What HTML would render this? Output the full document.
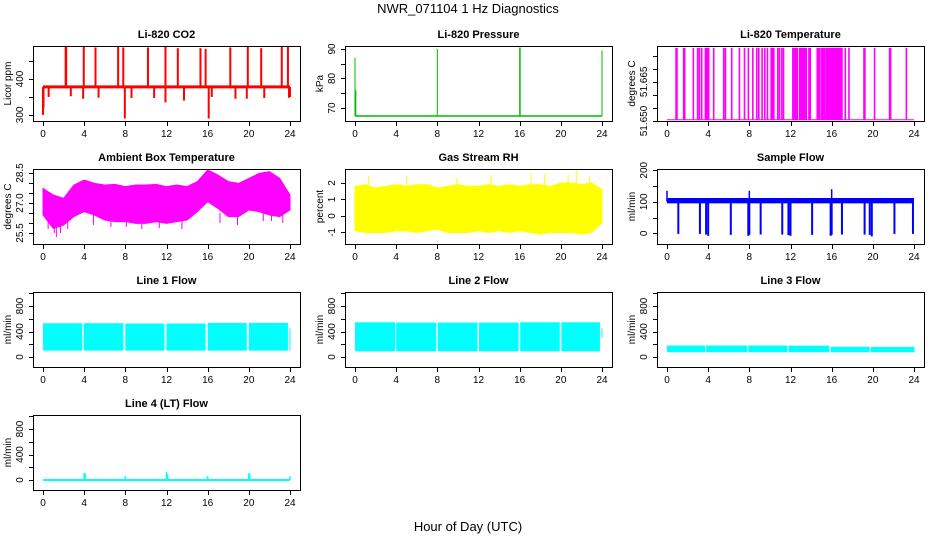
<!DOCTYPE html>
<html><head><meta charset="utf-8"><style>
body{margin:0;background:#fff}
svg{display:block;font-family:"Liberation Sans",sans-serif}
</style></head><body>
<svg id="c" width="936" height="540" viewBox="0 0 936 540">
<text x="468" y="13" text-anchor="middle" font-size="13">NWR_071104  1 Hz Diagnostics</text>
<text x="468" y="531" text-anchor="middle" font-size="13">Hour of Day (UTC)</text>
</svg>
<script>
// ---- data ----
const xTicks=[0,4,8,12,16,20,24];
const co2Base=378;
const co2UpT=[2.2,2.25,3.96,5.1,7.3,7.8,10.2,11.9,13.1,15.3,15.8,18.2,19.9,21.2,23.2,23.8];
const co2UpV=[490,490,492,488,490,488,488,490,486,486,484,488,492,486,490,490];
const co2DnT=[0,0.05,0.55,2.7,3.9,5.4,7.95,8.6,10.8,11.9,13.7,16.1,16.4,18.7,19.8,21.5,23.9,24];
const co2DnV=[300,320,350,352,345,348,290,347,347,335,340,290,350,345,345,347,348,350];
const presBase=67.3;
const presSpkT=[0,0.08,8.0,16.0,16.05,24.0];
const presSpkV=[87,76,90,90.5,90.5,89.5];
const tempLow=51.6505, tempHigh=51.678;
const tempSpkT=[0.88,0.97,1.62,1.72,2.56,2.98,3.15,3.37,3.73,3.8,3.9,4.0,4.05,4.54,5.51,5.68,6.29,7.04,7.53,7.91,8.34,8.73,8.92,9.24,9.5,9.76,10.12,10.2,10.3,10.38,10.77,10.93,11.16,11.32,12.23,12.3,12.4,12.5,12.55,12.65,12.88,13.0,13.1,13.2,13.3,13.4,13.53,13.79,13.92,14.6,14.7,14.82,15.0,15.1,15.2,15.31,15.47,15.55,15.63,15.7,15.78,15.86,15.94,16.02,16.1,16.18,16.26,16.34,16.42,16.5,16.58,16.66,16.74,16.82,16.9,17.0,17.32,17.68,19.14,19.23,20.17,21.63,21.73,23.26];
const hours=[0,1,2,3,4,5,6,7,8,9,10,11,12,13,14,15,16,17,18,19,20,21,22,23,24];
const ambUpper=[27.73,27.4,27.23,27.9,28.15,27.98,27.9,27.93,27.82,27.9,27.9,27.93,27.82,27.9,27.82,28.07,28.65,28.4,28.07,27.98,28.23,28.48,28.57,28.23,27.4];
const ambLower=[26.4,25.73,25.9,26.32,26.57,26.4,26.15,26.07,26.07,25.98,25.98,26.07,25.98,26.07,26.15,26.57,27.07,26.73,26.32,26.32,26.65,26.57,26.4,26.32,26.65];
const ambSpkT=[0.5,1.1,1.3,1.7,2.4,4.9,6.6,8.1,9.6,11.3,13.5,17.2,18.9,21.4,22.2,23.3];
const ambSpkV=[25.7,25.5,25.3,25.5,25.7,25.9,25.8,25.8,25.7,25.75,25.7,26.0,25.9,26.1,26.1,26.0];
const rhUpper=[1.8,1.9,1.7,1.8,1.9,1.8,1.9,1.9,1.7,1.8,1.9,1.8,1.8,1.9,1.8,1.9,1.8,1.9,1.9,1.8,2.0,2.0,1.9,2.0,1.6];
const rhLower=[-0.9,-1.0,-1.0,-1.0,-0.9,-0.9,-1.0,-0.9,-0.8,-1.0,-1.0,-1.0,-0.9,-1.0,-0.9,-1.0,-0.9,-1.0,-1.1,-1.0,-1.0,-1.0,-1.1,-1.0,-0.4];
const rhSpkT=[1.3,5.0,9.9,13.2,17.1,18.4,20.7,21.5,22.8];
const rhSpkV=[2.4,2.4,2.3,2.5,2.6,2.6,2.5,2.8,2.4];
const sfBaseLo=95, sfBaseHi=112;
const sfDropT=[1.1,3.2,3.8,4.0,6.2,7.9,8.0,9.1,11.2,11.8,12.0,14.1,15.9,16.0,17.0,19.2,19.7,19.9,22.1,23.9];
const sfDropV=[-2,-2,-4,-8,-5,-8,-5,-4,-4,-6,-8,-5,-8,-5,-4,-4,-5,-10,-2,-2];
const sfUpT=[0,8.0,16.0];
const sfUpV=[135,135,140];
const l1SegStart=[0,3.95,8.0,12.0,16.0,20.0,23.95];
const l1SegEnd=[3.8,7.8,11.8,15.8,19.8,23.8,24.05];
const l1Top=[530,530,525,525,535,535,450];
const l1Bot=[100,100,100,100,100,100,100];
const l2SegStart=[0,4.0,8.05,12.05,16.05,20.05,23.95];
const l2SegEnd=[3.9,7.9,11.9,15.9,19.9,23.8,24.05];
const l2Top=[545,540,540,540,545,545,450];
const l2Bot=[90,90,90,90,90,90,300];
const l3SegStart=[0,3.8,7.9,11.8,15.9,19.8];
const l3SegEnd=[3.7,7.8,11.7,15.75,19.7,24.05];
const l3Top=[180,180,180,178,160,158];
const l3Bot=[75,75,75,75,75,75];
const l4SpkT=[4.0,4.1,8.0,12.0,12.1,16.0,20.0,20.1,24.0];
const l4SpkV=[110,100,60,130,90,60,110,90,60];
// ---- drawing ----
const NS='http://www.w3.org/2000/svg';
const svg=document.getElementById('c');
function el(t,a,p){const e=document.createElementNS(NS,t);for(const k in a)e.setAttribute(k,a[k]);(p||svg).appendChild(e);return e;}
const cols=[33,345,657], rows=[46,169,292,415], W=267, H=75;
function panel(col,row,ylim,yt,yl,title,ylab,nm){
  const L=cols[col],T=rows[row],B=T+H;
  const g=el('g',{});
  
  
  const sx=h=>L+10+h*247/24;
  const sy=v=>T+(ylim[1]-v)/(ylim[1]-ylim[0])*H;
  const t=el('text',{x:L+W/2,y:T-8,'text-anchor':'middle','font-size':11,'font-weight':'bold'},g);
  t.textContent=title;
  
  
  const pg=el('g',{},g);
  
  
  const ax=el('g',{stroke:'#000','stroke-width':1,fill:'none'},g);
  
  
  el('rect',{x:L+.5,y:T+.5,width:W,height:H},ax);
  el('line',{x1:sx(0),x2:sx(24),y1:B+.5,y2:B+.5},ax);
  xTicks.forEach(h=>{el('line',{x1:Math.round(sx(h))+.5,x2:Math.round(sx(h))+.5,y1:B,y2:B+5},ax);
    const tx=el('text',{x:sx(h),y:B+16,'text-anchor':'middle','font-size':10,fill:'#000',stroke:'none'},g);tx.textContent=h;
    
    });
  yt.forEach((v,i)=>{const y=Math.round(sy(v))+.5;el('line',{x1:L-4,x2:L,y1:y,y2:y},ax);
    if(yl[i]!==''){const tx=el('text',{x:0,y:0,transform:`translate(${L-10},${sy(v)}) rotate(-90)`,'text-anchor':'middle','font-size':10},g);tx.textContent=yl[i];
    
    }});
  const yy=el('text',{x:0,y:0,transform:`translate(${L-22},${T+H/2}) rotate(-90)`,'text-anchor':'middle','font-size':10},g);
  yy.textContent=ylab;
  
  
  return {sx,sy,g:pg};
}
function vline(p,h,v1,v2,c,w){el('line',{x1:p.sx(h),x2:p.sx(h),y1:p.sy(v1),y2:p.sy(v2),stroke:c,'stroke-width':w||1},p.g);}
function band(p,xs,up,lo,c){let d='M'+xs.map((h,i)=>p.sx(h)+','+p.sy(up[i])).join('L');
  for(let i=xs.length-1;i>=0;i--)d+='L'+p.sx(xs[i])+','+p.sy(lo[i]);el('path',{d:d+'Z',fill:c,stroke:c},p.g);}
function segs(p,s,e,top,bot,c){s.forEach((a,i)=>el('rect',{x:p.sx(a),y:p.sy(top[i]),width:p.sx(e[i])-p.sx(a),height:p.sy(bot[i])-p.sy(top[i]),fill:c},p.g));}
// CO2
let p=panel(0,0,[283,492],[300,350,400,450],['300','','400',''],'Li-820 CO2','Licor ppm','co2');
el('line',{x1:p.sx(0),x2:p.sx(24),y1:p.sy(co2Base),y2:p.sy(co2Base),stroke:'#f00','stroke-width':3},p.g);
co2UpT.forEach((h,i)=>vline(p,h,co2Base,co2UpV[i],'#f00',2));
co2DnT.forEach((h,i)=>vline(p,h,co2Base,co2DnV[i],'#f00',2));
// Pressure
p=panel(1,0,[65.6,91],[70,75,80,85,90],['70','','80','','90'],'Li-820 Pressure','kPa','pressure');
el('line',{x1:p.sx(0),x2:p.sx(24),y1:p.sy(presBase),y2:p.sy(presBase),stroke:'#0b0','stroke-width':1.5},p.g);
presSpkT.forEach((h,i)=>vline(p,h,presBase,presSpkV[i],'#0b0',1));
// Temperature
p=panel(2,0,[51.650,51.6787],[51.650,51.655,51.660,51.665,51.670,51.675],['51.650','','','51.665','',''],'Li-820 Temperature','degrees C','li820-temp');
el('line',{x1:p.sx(0),x2:p.sx(24),y1:p.sy(tempLow),y2:p.sy(tempLow),stroke:'#f0f','stroke-width':1},p.g);
tempSpkT.forEach(h=>vline(p,h,tempLow,tempHigh,'#f0f',1.6));
// Ambient
p=panel(0,1,[24.95,28.7],[25.5,26,26.5,27,27.5,28,28.5],['25.5','','','27.0','','','28.5'],'Ambient Box Temperature','degrees C','ambient-temp');
band(p,hours,ambUpper,ambLower,'#f0f');
ambSpkT.forEach((h,i)=>vline(p,h,26.5,ambSpkV[i],'#f0f',1));
// RH
p=panel(1,1,[-1.7,2.85],[-1,0,1,2],['-1','0','1','2'],'Gas Stream RH','percent','gas-rh');
band(p,hours,rhUpper,rhLower,'#ff0');
rhSpkT.forEach((h,i)=>vline(p,h,1,rhSpkV[i],'#ff0',1));
// Sample flow
p=panel(2,1,[-34,204],[0,50,100,150,200],['0','','100','','200'],'Sample Flow','ml/min','sample-flow');
el('rect',{x:p.sx(0),y:p.sy(sfBaseHi),width:p.sx(24)-p.sx(0),height:p.sy(sfBaseLo)-p.sy(sfBaseHi),fill:'#00f'},p.g);
sfDropT.forEach((h,i)=>vline(p,h,100,sfDropV[i],'#00f',2));
sfUpT.forEach((h,i)=>vline(p,h,100,sfUpV[i],'#00f',1.5));
// Lines
const ft=[0,200,400,600,800,1000], fl=['0','','400','','800',''];
p=panel(0,2,[-157,1020],ft,fl,'Line 1 Flow','ml/min','line1-flow');segs(p,l1SegStart,l1SegEnd,l1Top,l1Bot,'#0ff');
p=panel(1,2,[-157,1020],ft,fl,'Line 2 Flow','ml/min','line2-flow');segs(p,l2SegStart,l2SegEnd,l2Top,l2Bot,'#0ff');
p=panel(2,2,[-157,1020],ft,fl,'Line 3 Flow','ml/min','line3-flow');segs(p,l3SegStart,l3SegEnd,l3Top,l3Bot,'#0ff');
p=panel(0,3,[-157,1020],ft,fl,'Line 4 (LT) Flow','ml/min','line4-flow');
el('line',{x1:p.sx(0),x2:p.sx(24),y1:p.sy(0),y2:p.sy(0),stroke:'#0ff','stroke-width':2},p.g);
l4SpkT.forEach((h,i)=>vline(p,h,0,l4SpkV[i],'#0ff',1.5));
</script>
</body></html>
